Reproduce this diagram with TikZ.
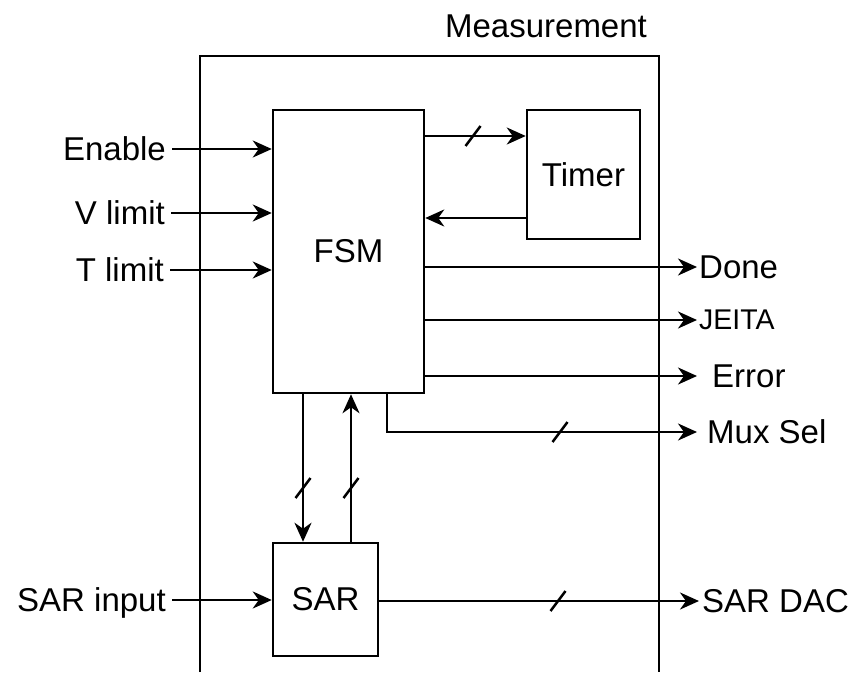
\documentclass[tikz,border=0pt]{standalone}
\usepackage{fontspec}
\setmainfont{Liberation Sans}
\usetikzlibrary{arrows.meta}
\tikzset{
  blk/.style={draw, line width=2.5pt, inner sep=0pt, font=\fontsize{33}{40}\selectfont},
  lbl/.style={inner ysep=0pt, inner xsep=2pt, text height=22pt, text depth=0pt, font=\fontsize{33}{40}\selectfont},
  sig/.style={line width=2.5pt, -{Stealth[length=19pt, width=17pt, inset=6pt]}},
  busmark/.pic={\draw[line width=2.5pt] (-7.5,10) -- (7.5,-10);}
}
\begin{document}
\begin{tikzpicture}[x=1pt, y=-1pt]
  \useasboundingbox (0,0) rectangle (853,672);
  % Measurement frame (open at the bottom)
  \draw[line width=2.5pt] (200,672) -- (200,56) -- (659,56) -- (659,672);
  \node[lbl, anchor=base] (meas) at (546,37) {Measurement};

  % Blocks
  \node[blk, minimum width=151pt, minimum height=283pt] (fsm) at (348.5,251.5) {\raisebox{-5pt}{FSM}};
  \node[blk, minimum width=113pt, minimum height=129pt] (timer) at (583.5,174.5) {Timer};
  \node[blk, minimum width=105pt, minimum height=113pt] (sar) at (325.5,599.5) {SAR};

  % Inputs
  \node[lbl, anchor=east, inner xsep=6pt] (en) at (172,149) {Enable};
  \node[lbl, anchor=east, inner xsep=6pt] (vlim) at (171,213) {V limit};
  \node[lbl, anchor=east, inner xsep=6pt] (tlim) at (170,270) {T limit};
  \node[lbl, anchor=east, inner xsep=6pt] (sarin) at (172,600) {SAR input};
  \draw[sig] (en.east) -- (fsm.west |- en.east);
  \draw[sig] (vlim.east) -- (fsm.west |- vlim.east);
  \draw[sig] (tlim.east) -- (fsm.west |- tlim.east);
  \draw[sig] (sarin.east) -- (sar.west |- sarin.east);

  % Outputs
  \node[lbl, anchor=west] (done) at (697,267) {Done};
  \node[lbl, anchor=west, font=\fontsize{28.5}{34}\selectfont, text height=19pt] (jeita) at (697,320) {JEITA};
  \node[lbl, anchor=west, inner xsep=15pt] (err) at (697,376) {Error};
  \node[lbl, anchor=west, inner xsep=10pt] (mux) at (697,432) {Mux Sel};
  \node[lbl, anchor=west, inner xsep=3pt] (dac) at (699,601) {SAR DAC};
  \draw[sig] (fsm.east |- done.west) -- (done.west);
  \draw[sig] (fsm.east |- jeita.west) -- (jeita.west);
  \draw[sig] (fsm.east |- err.west) -- (err.west);
  \draw[sig] (fsm.south -| 387,0) |- (mux.west);
  \draw[sig] (sar.east |- dac.west) -- (dac.west);
  \pic at (560,432) {busmark};
  \pic at (558,601) {busmark};

  % FSM <-> Timer
  \draw[sig] (fsm.east |- 0,136) -- (timer.west |- 0,136);
  \draw[sig] (timer.west |- 0,218) -- (fsm.east |- 0,218);
  \pic at (473,136) {busmark};

  % FSM <-> SAR
  \draw[sig] (fsm.south -| 303,0) -- (sar.north -| 303,0);
  \draw[sig] (sar.north -| 351,0) -- (fsm.south -| 351,0);
  \pic at (303,488) {busmark};
  \pic at (351,488) {busmark};
\end{tikzpicture}
\end{document}
